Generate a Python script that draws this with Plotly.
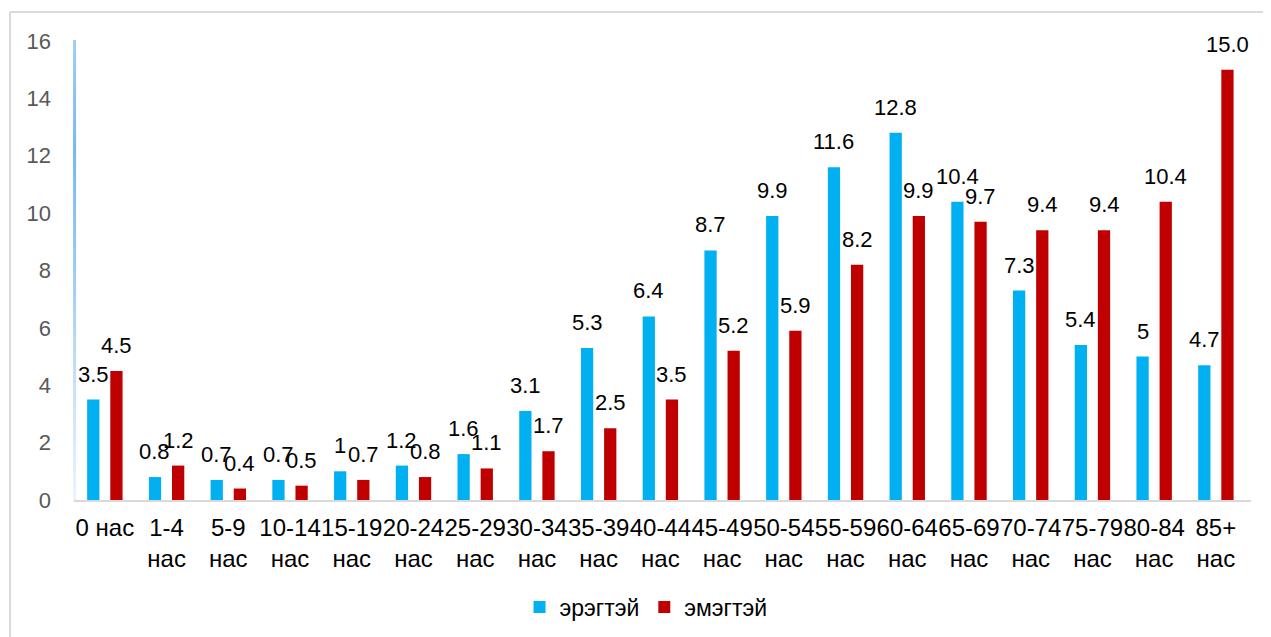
import plotly.graph_objects as go

# ---- data ----
categories = ["0 нас", "1-4 нас", "5-9 нас", "10-14 нас", "15-19 нас", "20-24 нас",
              "25-29 нас", "30-34 нас", "35-39 нас", "40-44 нас", "45-49 нас",
              "50-54 нас", "55-59 нас", "60-64 нас", "65-69 нас", "70-74 нас",
              "75-79 нас", "80-84 нас", "85+ нас"]
male = [3.5, 0.8, 0.7, 0.7, 1, 1.2, 1.6, 3.1, 5.3, 6.4, 8.7, 9.9, 11.6, 12.8,
        10.4, 7.3, 5.4, 5, 4.7]
female = [4.5, 1.2, 0.4, 0.5, 0.7, 0.8, 1.1, 1.7, 2.5, 3.5, 5.2, 5.9, 8.2, 9.9,
          9.7, 9.4, 9.4, 10.4, 15.0]
series_names = ["эрэгтэй", "эмэгтэй"]
y_ticks = [0, 2, 4, 6, 8, 10, 12, 14, 16]

# ---- layout constants (page body has an 8px default margin) ----
W, H = 1263, 629
ML, MR, MT, MB = 66, 20, 33, 137
PW = W - ML - MR
PH = H - MT - MB
BARGAP, BARGROUPGAP = 0.25, 0.47
cat_px = PW / len(categories)
slot = (1 - BARGAP) / 2
shift_px = slot / 2 * cat_px

BLUE = "#00B0F0"
RED = "#C00000"
FONT = "Liberation Sans, Arial, sans-serif"

ticktext = [c if i == 0 else c.replace(" ", "<br>") for i, c in enumerate(categories)]

fig = go.Figure()
fig.add_trace(go.Bar(x=categories, y=male, name=series_names[0],
                     marker=dict(color=BLUE, line=dict(width=0))))
fig.add_trace(go.Bar(x=categories, y=female, name=series_names[1],
                     marker=dict(color=RED, line=dict(width=0))))

annotations = []
for vals, dx in ((male, -shift_px), (female, shift_px)):
    for c, v in zip(categories, vals):
        annotations.append(dict(x=c, y=v, xref="x", yref="y", text=str(v),
                                showarrow=False, xanchor="center", yanchor="bottom",
                                xshift=dx, yshift=11,
                                font=dict(family=FONT, size=22, color="#000000")))

shapes = []
# chart border (left and top)
x_left = (2 - ML) / PW
y_top = (H - 4 - MB) / PH
shapes.append(dict(type="line", xref="paper", yref="paper", x0=x_left, x1=x_left,
                   y0=-(MB + 10) / PH, y1=y_top, line=dict(color="#d9d9d9", width=2)))
shapes.append(dict(type="line", xref="paper", yref="paper", x0=x_left, x1=(PW + MR + 10) / PW,
                   y0=y_top, y1=y_top, line=dict(color="#d9d9d9", width=2)))

# gradient y-axis line
stops = [(0.0, (235, 244, 253)), (0.3, (190, 220, 247)), (0.55, (148, 199, 242)),
         (0.76, (120, 183, 238)), (1.0, (158, 206, 246))]
def col_at(p):
    for (p0, c0), (p1, c1) in zip(stops[:-1], stops[1:]):
        if p0 <= p <= p1:
            t = (p - p0) / (p1 - p0) if p1 > p0 else 0
            return "rgb(%d,%d,%d)" % tuple(round(a + (b - a) * t) for a, b in zip(c0, c1))
    return "rgb(%d,%d,%d)" % stops[-1][1]
nseg = 40
for i in range(nseg):
    p0, p1 = i / nseg, (i + 1) / nseg
    shapes.append(dict(type="line", xref="paper", yref="paper", x0=0.0005, x1=0.0005,
                       y0=p0, y1=p1 + 0.002, line=dict(color=col_at((p0 + p1) / 2), width=3),
                       layer="above"))

legend_y = (H - (607 - 8)) / H

fig.update_layout(
    width=W, height=H,
    margin=dict(l=ML, r=MR, t=MT, b=MB, autoexpand=False),
    paper_bgcolor="white", plot_bgcolor="white",
    barmode="group", bargap=BARGAP, bargroupgap=BARGROUPGAP,
    font=dict(family=FONT, size=22, color="#000000"),
    showlegend=True,
    legend=dict(orientation="h", x=0.486, xanchor="center",
                yref="container", y=legend_y, yanchor="middle",
                font=dict(family=FONT, size=23, color="#000000"),
                itemwidth=30, bgcolor="rgba(0,0,0,0)"),
    annotations=annotations,
    shapes=shapes,
)
fig.update_xaxes(type="category", tickvals=categories, ticktext=ticktext, tickangle=0,
                 showline=True, linecolor="#d9d9d9", linewidth=2, showgrid=False,
                 ticks="", tickfont=dict(family=FONT, size=24, color="#000000"),
                 ticklabelstandoff=5, zeroline=False, automargin=False)
fig.update_yaxes(range=[0, 16], tickvals=y_ticks, showgrid=False, zeroline=False,
                 showline=False, ticks="",
                 tickfont=dict(family=FONT, size=22, color="#595959"),
                 ticklabelstandoff=22, automargin=False)

fig.write_html("out.html")
